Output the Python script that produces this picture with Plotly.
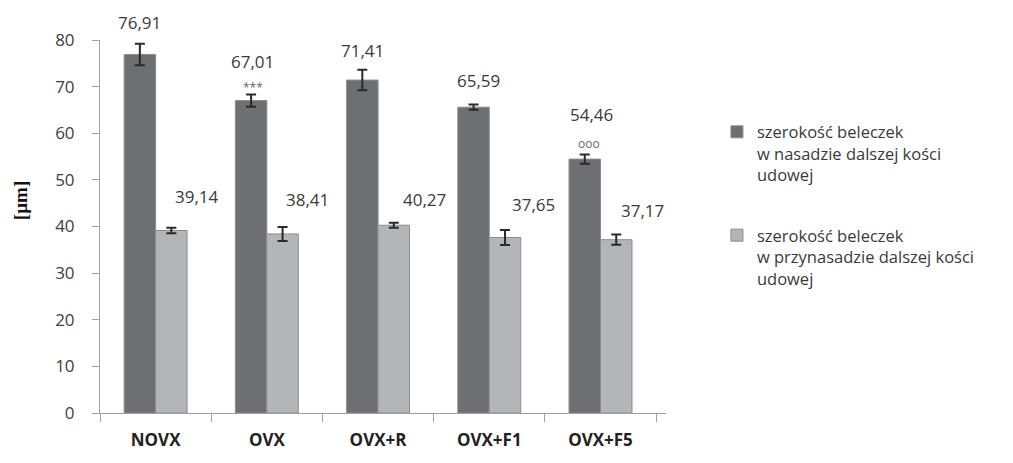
import plotly.graph_objects as go

# Groups and measured trabecular widths [µm]
groups = ["NOVX", "OVX", "OVX+R", "OVX+F1", "OVX+F5"]
epiphysis = [76.91, 67.01, 71.41, 65.59, 54.46]
epiphysis_err = [2.3, 1.3, 2.2, 0.55, 1.0]
metaphysis = [39.14, 38.41, 40.27, 37.65, 37.17]
metaphysis_err = [0.6, 1.5, 0.55, 1.6, 1.1]
# significance marks above the epiphysis bars
significance = ["", "***", "", "", "ooo"]

name_epi = "szerokość beleczek<br>w nasadzie dalszej kości<br>udowej"
name_meta = "szerokość beleczek<br>w przynasadzie dalszej kości<br>udowej"

DARK = "#6e6f73"
LIGHT = "#b4b5b9"
EDGE = "#8c8c8c"
TXT = "#3a3a3a"
FONT = "Open Sans"

fig = go.Figure()
fig.add_trace(go.Bar(
    x=groups, y=epiphysis, name=name_epi, legendgroup="a",
    marker=dict(color=DARK, line=dict(color=EDGE, width=1)),
    error_y=dict(type="data", array=epiphysis_err, color="#2a2a2a",
                 thickness=2, width=5),
))
fig.add_trace(go.Bar(
    x=groups, y=metaphysis, name=name_meta, legendgroup="b",
    marker=dict(color=LIGHT, line=dict(color=EDGE, width=1)),
    error_y=dict(type="data", array=metaphysis_err, color="#2a2a2a",
                 thickness=2, width=5),
))


def fmt(v):
    return f"{v:.2f}".replace(".", ",")


# label placement (pixel offsets from the bar top / category centre)
dark_lift = [32, 39, 30, 27, 45]
dark_dx = [-16, -14, -16, -11, -9]
light_lift = [34, 34, 26, 33, 29]
light_dx = [41, 41, 46, 44, 42]
mark_lift = [0, 13, 0, 0, 16]
mark_dx = [0, -14, 0, 0, -12]

for i, g in enumerate(groups):
    fig.add_annotation(x=g, y=epiphysis[i], text=fmt(epiphysis[i]),
                       showarrow=False, xshift=dark_dx[i], yshift=dark_lift[i],
                       font=dict(family=FONT, size=17, color=TXT))
    fig.add_annotation(x=g, y=metaphysis[i], text=fmt(metaphysis[i]),
                       showarrow=False, xshift=light_dx[i], yshift=light_lift[i],
                       font=dict(family=FONT, size=17, color=TXT))
    if significance[i]:
        fig.add_annotation(x=g, y=epiphysis[i], text=significance[i],
                           showarrow=False, xshift=mark_dx[i], yshift=mark_lift[i],
                           font=dict(family=FONT, size=12, color="#666666"))

# rotated unit label left of the value axis
fig.add_annotation(text="[µm]", textangle=-90, xref="paper", yref="paper",
                   x=-0.14, y=0.57, xanchor="center", yanchor="middle",
                   showarrow=False,
                   font=dict(family="Liberation Serif", size=19, color="#111111",
                             weight="bold"))

fig.update_layout(
    width=1013, height=463,
    margin=dict(l=100, r=347, t=40, b=47),
    paper_bgcolor="white", plot_bgcolor="white",
    barmode="group", bargap=0.434, bargroupgap=0,
    font=dict(family=FONT, color=TXT),
    legend=dict(x=1.09, y=0.80, xanchor="left", yanchor="top",
                font=dict(family=FONT, size=16.5, color=TXT),
                traceorder="grouped", tracegroupgap=36, valign="top",
                itemwidth=30),
    showlegend=True,
)
fig.update_xaxes(
    showline=True, linecolor="#a0a0a0", linewidth=1,
    ticks="outside", tickson="boundaries", ticklen=8, tickcolor="#a0a0a0",
    tickfont=dict(family=FONT, size=17, color="#222222", weight="bold"),
    ticklabelstandoff=12, showgrid=False,
)
fig.update_yaxes(
    range=[0, 80], dtick=10,
    showline=True, linecolor="#a0a0a0", linewidth=1,
    ticks="outside", ticklen=7, tickcolor="#a0a0a0",
    tickfont=dict(family=FONT, size=17, color="#404040"),
    ticklabelstandoff=14, showgrid=False, zeroline=False,
)

fig.write_html("out.html")
